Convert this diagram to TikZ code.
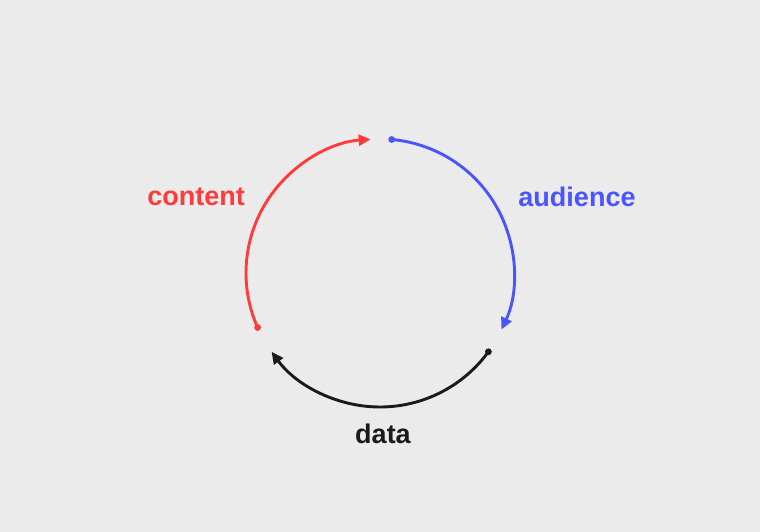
\documentclass[tikz,border=0pt]{standalone}
\usepackage{fontspec}
\setmainfont{Liberation Sans}
\usetikzlibrary{arrows.meta}
\definecolor{bg}{HTML}{EBEBEB}
\definecolor{cred}{HTML}{FF3B3B}
\definecolor{cblue}{HTML}{4B55FF}
\definecolor{cblack}{HTML}{1A1A1A}
\begin{document}
\begin{tikzpicture}[x=1pt,y=1pt,
  arcline/.style={line width=2.9pt,-{Triangle[length=12pt,width=11pt]}},
  lbl/.style={font=\fontsize{27}{32}\selectfont\bfseries,inner sep=0pt}]
\fill[bg] (0,0) rectangle (760,532);
\useasboundingbox (0,0) rectangle (760,532);
\coordinate (c) at (380,259);
% blue: audience
\draw[arcline,cblue] (c) ++(85:134) coordinate (b0) arc[start angle=85,end angle=-25,radius=134] coordinate (b1);
\fill[cblue] (b0) circle[radius=3.4pt];
% black: data
\draw[arcline,cblack] (c) ++(-36:134) coordinate (k0) arc[start angle=-36,end angle=-144,radius=134] coordinate (k1);
\fill[cblack] (k0) circle[radius=3.4pt];
% red: content
\draw[arcline,cred] (c) ++(204:134) coordinate (r0) arc[start angle=204,end angle=94,radius=134] coordinate (r1);
\fill[cred] (r0) circle[radius=3.4pt];
\node[lbl,text=cred] (content) at (196,335) {content};
\node[lbl,text=cblue] (audience) at (577,335) {audience};
\node[lbl,text=cblack] (data) at (383,98) {data};
\end{tikzpicture}
\end{document}
